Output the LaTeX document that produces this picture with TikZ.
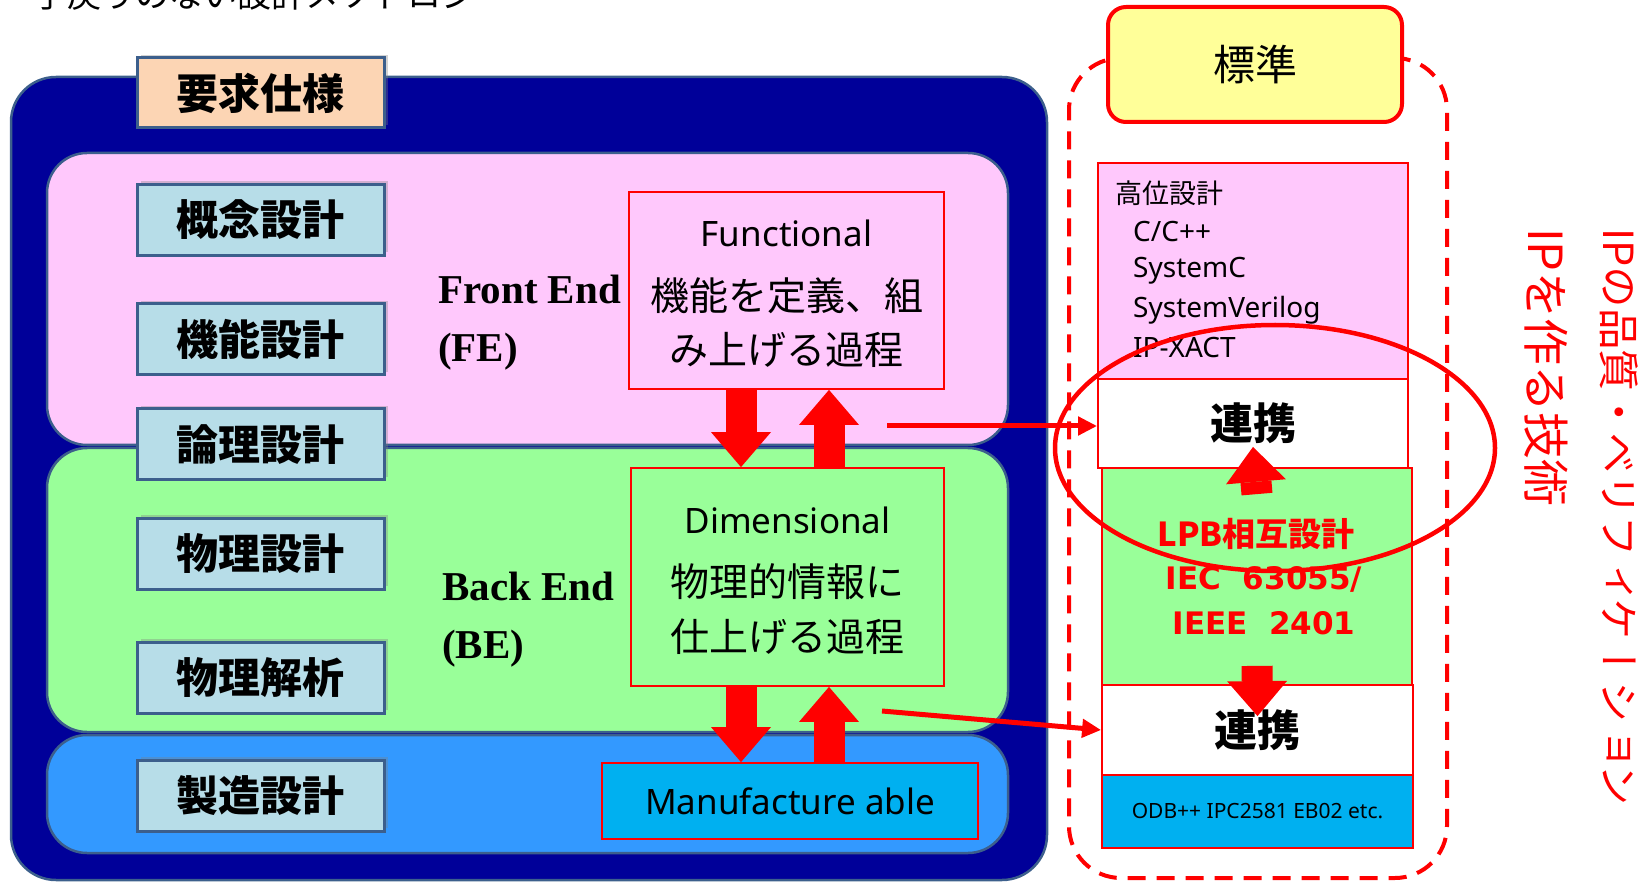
\documentclass[tikz,border=0pt]{standalone}
\usepackage{fontspec}
\usetikzlibrary{shapes.geometric,shadows,arrows.meta,calc}
\newfontfamily\jp{Noto Sans CJK JP}
\newfontfamily\jpv[Vertical=RotatedGlyphs]{Noto Sans CJK JP}
\newfontfamily\lat{Noto Sans}
\newfontfamily\dvs{DejaVu Sans}
\newfontfamily\tms{Liberation Serif}
\newcommand\pxs[1]{\fontsize{#1}{#1}\selectfont}
\definecolor{darkpanel}{RGB}{0,0,153}
\definecolor{bandpink}{RGB}{255,200,252}
\definecolor{bandgreen}{RGB}{153,255,153}
\definecolor{bandblue}{RGB}{51,153,255}
\definecolor{cyanbox}{RGB}{0,176,240}
\definecolor{lblue}{RGB}{183,221,232}
\definecolor{peach}{RGB}{252,213,180}
\definecolor{lyellow}{RGB}{255,255,153}
\definecolor{slate}{RGB}{60,95,140}
\begin{document}
\begin{tikzpicture}[x=1pt,y=-1pt,
  band/.style={draw=slate, line width=2.5pt, rounded corners=40pt, inner sep=0pt},
  lbl/.style={draw=slate, line width=3pt, fill=lblue, minimum width=247pt, minimum height=71pt, inner sep=0pt,
    font=\jp\bfseries\pxs{42}, drop shadow={shadow xshift=4pt, shadow yshift=3pt, opacity=0.35}},
  redbox/.style={draw=red, line width=1.8pt, inner sep=0pt},
  barrow/.style={draw=red, line width=31pt, -{Triangle[width=60pt,length=35pt,line width=0pt]}},
  conn/.style={draw=red, line width=5pt, -{Triangle[length=19pt,width=18pt]}},
  endtxt/.style={font=\tms\bfseries\pxs{41}, anchor=base west, inner sep=0pt},
  boxtxt/.style={font=\jp\pxs{39}, inner sep=0pt},
  hitxt/.style={font=\lat\pxs{28}, anchor=west, inner sep=0pt},
  vtxt/.style={text=red, anchor=west, rotate=-90, inner sep=0pt}]
\useasboundingbox (0,0) rectangle (1650,882);
% title (clipped at the top, as in the reference)
\node[font=\jp\pxs{34}, anchor=base west, inner sep=0pt] (title) at (33,8) {手戻りのない設計メソドロジ};
% main panel and bands
\node[draw=slate, line width=2.5pt, fill=darkpanel, rounded corners=45pt, minimum width=1036pt, minimum height=803pt, inner sep=0pt] (panel) at (529,478.5) {};
\node[band, fill=bandpink, minimum width=961pt, minimum height=292pt] (feband) at (527.5,299) {};
\node[band, fill=bandgreen, minimum width=961pt, minimum height=284pt] (beband) at (527.5,590) {};
\node[band, fill=bandblue, minimum width=961pt, minimum height=118pt] (mfband) at (527.5,794) {};
% labels
\node[lbl, fill=peach, minimum height=70pt] (req) at (260.5,93) {要求仕様};
\node[lbl] (l1) at (260.5,220) {概念設計};
\node[lbl] (l2) at (260.5,339.5) {機能設計};
\node[lbl] (l3) at (260.5,444.5) {論理設計};
\node[lbl] (l4) at (260.5,553.5) {物理設計};
\node[lbl] (l5) at (260.5,677.5) {物理解析};
\node[lbl] (l6) at (260.5,795.5) {製造設計};
% FE / BE
\node[endtxt] (fe1) at (438,304) {Front End};
\node[endtxt] (fe2) at (438,362) {(FE)};
\node[endtxt] (be1) at (442,600) {Back End};
\node[endtxt] (be2) at (442,658) {(BE)};
% process boxes
\node[redbox, fill=bandpink, minimum width=315pt, minimum height=197pt] (func) at (786.5,290.5) {};
\node[redbox, fill=bandgreen, minimum width=313pt, minimum height=218pt] (dim) at (787.5,577) {};
\node[redbox, fill=cyanbox, minimum width=376pt, minimum height=76pt, font=\lat\pxs{35}] (manu) at (790,801) {Manufacture able};
\node[font=\lat\pxs{35}, inner sep=0pt] (funcT1) at (786.5,233) {Functional};
\node[boxtxt] (funcT2) at (786.5,296) {機能を定義、組};
\node[boxtxt] (funcT3) at (786.5,350) {み上げる過程};
\node[font=\lat\pxs{35}, inner sep=0pt] (dimT1) at (787.5,520) {Dimensional};
\node[boxtxt] (dimT2) at (787.5,582) {物理的情報に};
\node[boxtxt] (dimT3) at (787.5,637) {仕上げる過程};
% block arrows left
\draw[barrow] (741,0 |- func.south) -- (741,0 |- dim.north);
\draw[barrow] (829,0 |- dim.north) -- (829,0 |- func.south);
\draw[barrow] (741,0 |- dim.south) -- (741,0 |- manu.north);
\draw[barrow] (829,0 |- manu.north) -- (829,0 |- dim.south);
% standards column
\node[draw=red, line width=4pt, dash pattern=on 18pt off 11pt, rounded corners=52pt, minimum width=378pt, minimum height=820pt, inner sep=0pt] (frame) at (1258,468) {};
\node[draw=red, line width=4pt, fill=lyellow, rounded corners=18pt, minimum width=294pt, minimum height=115pt, font=\jp\pxs{42}] (std) at (1255,64.5) {標準};
\node[redbox, fill=bandpink, minimum width=310pt, minimum height=216pt] (hi) at (1253,271) {};
\node[redbox, fill=white, minimum width=310pt, minimum height=89pt, font=\jp\bfseries\pxs{43}] (rk1) at (1253,423.5) {連携};
\node[redbox, fill=bandgreen, minimum width=310pt, minimum height=217pt] (lpb) at (1257,576.5) {};
\node[redbox, fill=white, minimum width=311pt, minimum height=90pt, font=\jp\bfseries\pxs{43}] (rk2) at (1257.5,730) {連携};
\node[redbox, fill=cyanbox, minimum width=311pt, minimum height=73pt, font=\lat\pxs{21}] (odb) at (1257.5,811.5) {ODB++ IPC2581 EB02 etc.};
\node[font=\jp\pxs{27}, anchor=west, inner sep=0pt] (hiT1) at (1115,193) {高位設計};
\node[hitxt] (hiT2) at (1133,232) {C/C++};
\node[hitxt] (hiT3) at (1133,271) {SystemC};
\node[hitxt] (hiT4) at (1133,310) {SystemVerilog};
\node[hitxt] (hiT5) at (1133,348) {IP-XACT};
\node[font=\jp\bfseries\pxs{33}, text=red, inner sep=0pt] (lpbT1) at (1256,534) {LPB相互設計};
\node[font=\dvs\bfseries\pxs{31}, text=red, inner sep=0pt] (lpbT2) at (1264,579) {IEC\ \ 63055/};
\node[font=\dvs\bfseries\pxs{31}, text=red, inner sep=0pt] (lpbT3) at (1264,623) {IEEE\ \ 2401};
\draw[barrow] ([yshift=-27pt]lpb.north) -- ([yshift=22pt]rk1.south);
\draw[barrow] ([yshift=20pt]lpb.south) -- ([yshift=-32pt]rk2.north);
% ellipse
\node[ellipse, draw=red, line width=4.5pt, minimum width=440pt, minimum height=246pt, inner sep=0pt] (oval) at (1275,448) {};
% connectors
\coordinate (c1) at (887,426);
\coordinate (c2) at (882,711);
\draw[conn] (c1) -- (c1 -| rk1.west);
\draw[conn] (c2) -- (rk2.west);
% vertical texts
\node[vtxt, font=\jpv\pxs{41.5}] (v1) at (1619,228) {IPの品質・ベリフィケーション};
\node[vtxt, font=\jpv\pxs{47}] (v2) at (1546,228) {IPを作る技術};
\end{tikzpicture}
\end{document}
